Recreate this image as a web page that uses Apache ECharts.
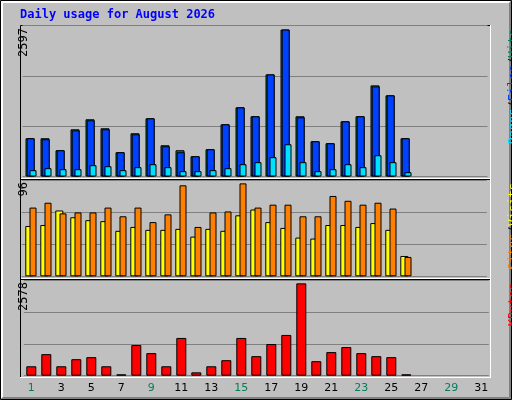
<!DOCTYPE html>
<html><head><meta charset="utf-8">
<script src="https://cdn.jsdelivr.net/npm/echarts@6/dist/echarts.min.js"></script>
<style>html,body{margin:0;padding:0;background:#c0c0c0}#c{width:512px;height:400px}</style>
</head><body><div id="c"></div>
<script>
const days = Array.from({length:31},(_,i)=>String(i+1));
const hits  = [676,676,464,834,1011,852,429,764,1028,552,464,358,482,922,1222,1064,1804,2597,1064,623,588,975,1064,1610,1434,676,0,0,0,0,0];
const files = [676,658,464,816,993,834,429,746,1028,534,429,358,482,922,1222,1064,1804,2597,1046,623,588,975,1064,1592,1434,676,0,0,0,0,0];
const pages = [112,147,129,129,200,182,112,165,217,165,94,94,112,147,217,253,341,570,253,94,129,217,165,376,253,76,0,0,0,0,0];
const visits= [71,76,65,66,66,71,62,71,56,64,94,51,66,67,96,71,74,74,62,62,83,78,74,76,70,20,0,0,0,0,0];
const sites = [52,53,68,61,58,57,47,51,48,48,49,41,49,47,63,69,56,50,40,39,53,53,51,55,48,21,0,0,0,0,0];
const kbytes= [263,602,263,461,518,263,38,856,630,263,1054,94,263,433,1054,546,884,1138,2578,405,659,800,630,546,518,38,0,0,0,0,0];
const weekend = ['1','2','8','9','15','16','22','23','29','30'];
const maxLabels = ['2597','96','2578'];

const X0=25.5, W=465;
const panels=[{top:25.5,h:151,max:2668},{top:180,h:96.3,max:99.5},{top:280,h:95.7,max:2672}];
const grids=[],xAxes=[],yAxes=[],series=[];
function add(p,shift,data,color,bw,z,showAxis,splitLine){
  const i=grids.length;
  grids.push({left:X0+shift,top:panels[p].top,width:W,height:panels[p].h});
  xAxes.push({type:'category',gridIndex:i,data:days,show:showAxis,axisLine:{show:false},axisTick:{show:false},
    axisLabel:{fontFamily:'DejaVu Sans',fontSize:11,margin:7,color:(v)=>weekend.includes(v)?'#00805c':'#000'}});
  yAxes.push({type:'value',gridIndex:i,min:0,max:panels[p].max,interval:panels[p].max/3,axisLabel:{show:false},
    axisLine:{show:false},axisTick:{show:false},splitLine:{show:splitLine,lineStyle:{color:'#808080',width:1}}});
  series.push({type:'bar',xAxisIndex:i,yAxisIndex:i,data:data.map(v=>v>0?v:null),barWidth:bw,z:z,silent:true,
    itemStyle:{color:color,borderColor:'#000',borderWidth:1}});
}
add(0,-3,hits,'#00805c',9,2,false,true);
add(0,-2.3,files,'#0040ff',8,3,false,false);
add(0,0,pages,'#00e0ff',7,4,false,false);
add(1,-3.7,sites,'#ffff00',8,2,false,true);
add(1,0,visits,'#ff8000',7,3,false,false);
add(2,-1.7,kbytes,'#ff0000',10,2,true,true);

const chart=echarts.init(document.getElementById('c'),null,{renderer:'canvas'});
const ln=(x1,y1,x2,y2,c)=>({type:'line',shape:{x1,y1,x2,y2},style:{stroke:c,lineWidth:1},z:-1});
const vt=(x,y,parts)=>({type:'text',x:x,y:y,rotation:Math.PI/2,z:10,
  style:{rich:Object.fromEntries(parts.map((p,i)=>['r'+i,{fill:p[1],fontFamily:'DejaVu Sans Mono',fontSize:12}])),
  text:parts.map((p,i)=>'{r'+i+'|'+p[0]+'}').join(''),align:'right',verticalAlign:'top'}});
chart.setOption({
  animation:false,
  grid:grids,xAxis:xAxes,yAxis:yAxes,series:series,
  graphic:[
    {type:'rect',shape:{x:0.5,y:0.5,width:511,height:399},style:{fill:'#c0c0c0',stroke:'#000',lineWidth:1},z:-10},
    ln(1.5,1.5,510.5,1.5,'#fff'),ln(1.5,1.5,1.5,398.5,'#fff'),
    ln(2.5,2.5,509.5,2.5,'#fff'),ln(2.5,2.5,2.5,397.5,'#fff'),
    ln(510.5,1.5,510.5,398.5,'#808080'),ln(1.5,398.5,510.5,398.5,'#808080'),
    ln(509.5,2.5,509.5,397.5,'#808080'),ln(2.5,397.5,509.5,397.5,'#808080'),
    {type:'rect',shape:{x:20,y:25,width:470,height:352},style:{fill:'#c0c0c0'},z:-5},
    ln(20.5,25.5,490.5,25.5,'#000'),ln(20.5,25.5,20.5,377,'#000'),
    ln(490.5,25,490.5,377.5,'#fff'),ln(20,377.5,491,377.5,'#fff'),
    ln(21,178.5,490,178.5,'#fff'),ln(21,179.5,490,179.5,'#000'),
    ln(21,278.5,490,278.5,'#fff'),ln(21,279.5,490,279.5,'#000'),
    {type:'text',x:20,y:9,z:10,style:{text:'Daily usage for August 2026',fill:'#0000ff',font:'bold 12px "DejaVu Sans Mono"'}},
    vt(18,28,[[maxLabels[0],'#000']]),
    vt(18,182,[[maxLabels[1],'#000']]),
    vt(18,282,[[maxLabels[2],'#000']]),
    vt(508,29,[['Pages','#00e0ff'],['/','#000'],['Files','#0040ff'],['/','#000'],['Hits','#00805c']]),
    vt(508,183,[['Sites','#ff8000'],['/','#000'],['Visits','#ffff00']]),
    vt(508,283,[['KBytes','#ff0000']])
  ]
});
</script></body></html>
